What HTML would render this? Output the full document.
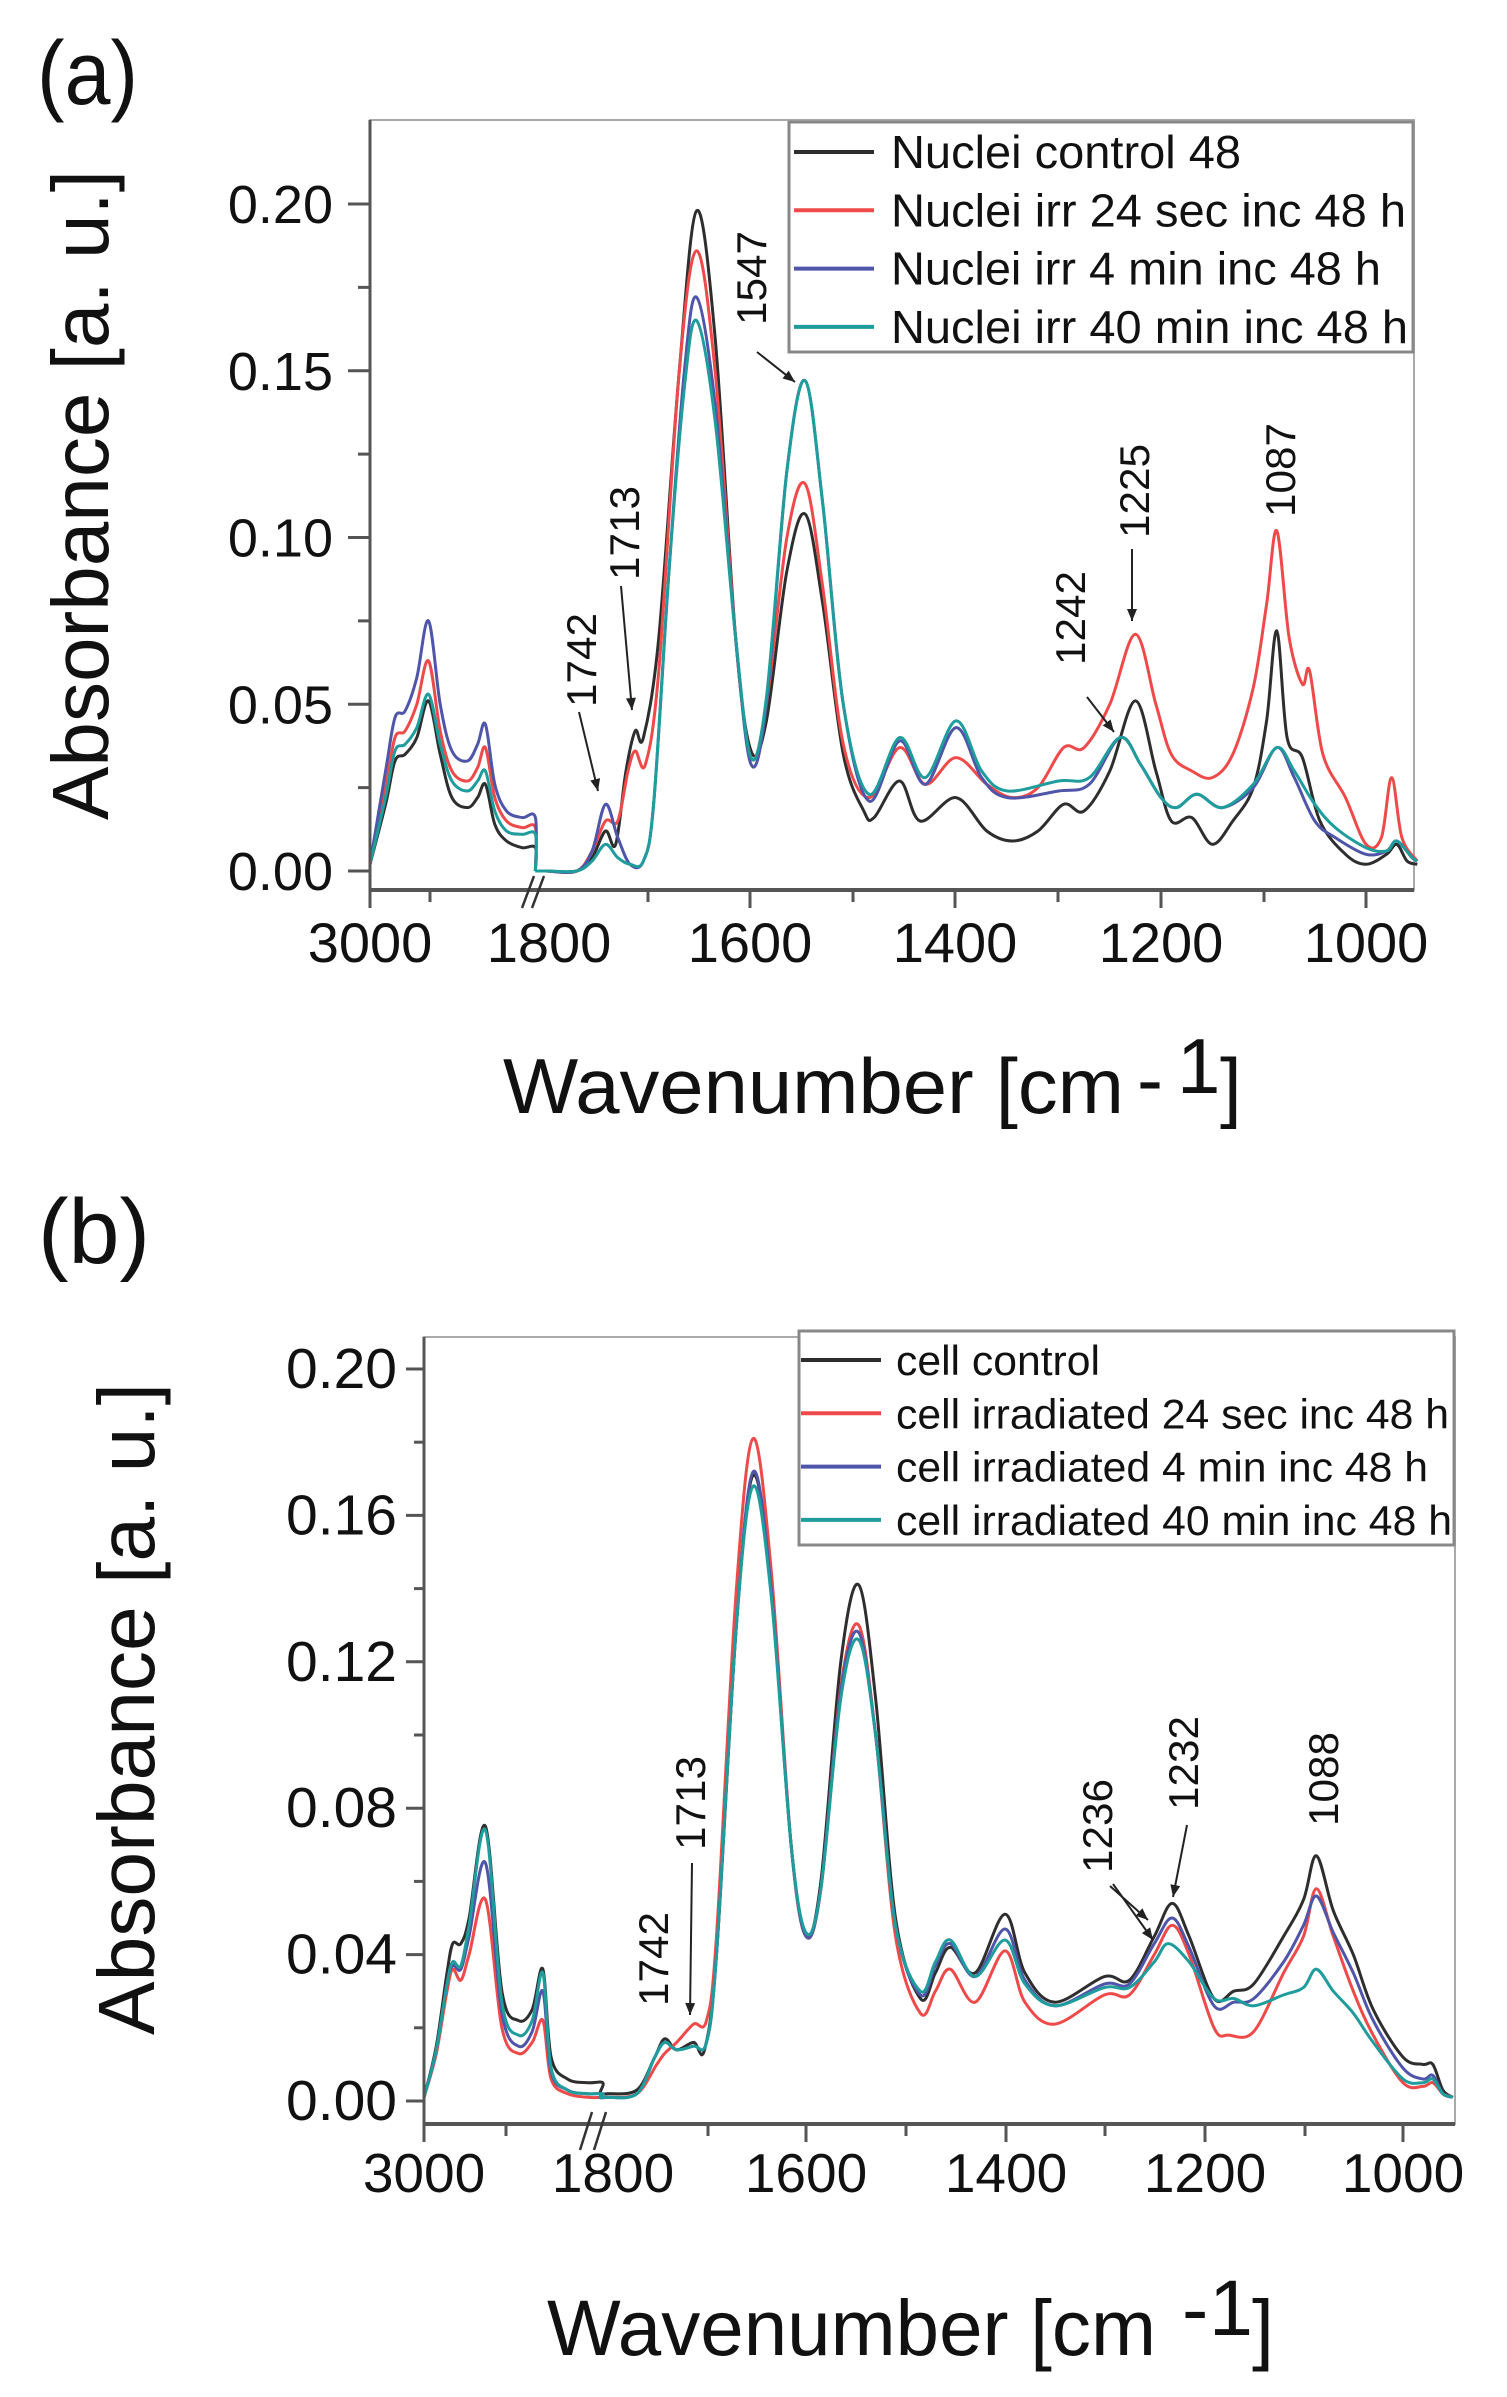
<!DOCTYPE html>
<html><head><meta charset="utf-8">
<style>
html,body{margin:0;padding:0;background:#fff;}
svg{display:block;}
text{font-family:"Liberation Sans",Arial,sans-serif;fill:#111;}
</style></head>
<body>
<svg id="s" width="1507" height="2397" viewBox="0 0 1507 2397" xmlns="http://www.w3.org/2000/svg">
<rect width="1507" height="2397" fill="#fff"/>
<text x="37" y="104" font-size="90" textLength="101" lengthAdjust="spacingAndGlyphs">(a)</text>
<text x="38" y="1263" font-size="92" textLength="112" lengthAdjust="spacingAndGlyphs">(b)</text>
<text transform="translate(108,495) rotate(-90)" text-anchor="middle" font-size="80" textLength="650" lengthAdjust="spacingAndGlyphs">Absorbance [a. u.]</text>
<text transform="translate(154,1709) rotate(-90)" text-anchor="middle" font-size="80" textLength="652" lengthAdjust="spacingAndGlyphs">Absorbance [a. u.]</text>
<text x="503" y="1113" font-size="78" textLength="621" lengthAdjust="spacingAndGlyphs">Wavenumber [cm</text>
<text x="1137" y="1106" font-size="78">-</text>
<text x="1177" y="1093" font-size="78">1</text>
<text x="1220" y="1113" font-size="78">]</text>
<text x="547" y="2355" font-size="79" textLength="609" lengthAdjust="spacingAndGlyphs">Wavenumber [cm</text>
<text x="1182" y="2336" font-size="79">-</text>
<text x="1209" y="2335" font-size="79">1</text>
<text x="1252" y="2355" font-size="79">]</text>
<g id="g"></g>
</svg>
<script>
var NS="http://www.w3.org/2000/svg";
var G=document.getElementById('g');
function el(t,a,txt){var e=document.createElementNS(NS,t);for(var k in a)e.setAttribute(k,a[k]);if(txt!=null)e.textContent=txt;G.appendChild(e);return e;}
function path(pts,col,w){
  var d="M"+pts[0][0].toFixed(1)+","+pts[0][1].toFixed(1);
  for(var i=0;i<pts.length-1;i++){
    var p0=pts[i-1]||pts[i],p1=pts[i],p2=pts[i+1],p3=pts[i+2]||p2;
    var c1x=p1[0]+(p2[0]-p0[0])/6,c1y=p1[1]+(p2[1]-p0[1])/6;
    var c2x=p2[0]-(p3[0]-p1[0])/6,c2y=p2[1]-(p3[1]-p1[1])/6;
    d+=" C"+c1x.toFixed(1)+","+c1y.toFixed(1)+" "+c2x.toFixed(1)+","+c2y.toFixed(1)+" "+p2[0].toFixed(1)+","+p2[1].toFixed(1);
  }
  el('path',{d:d,fill:'none',stroke:col,'stroke-width':w||3,'stroke-linejoin':'round'});
}
function P(arr){var o=[];for(var i=0;i<arr.length;i+=2)o.push([arr[i],arr[i+1]]);return o;}
var COL=['#2e2e2e','#ef4a4a','#4f55a8','#1f9c9c'];

var A={ax:370,right:1414,top:120,bot:890,y0:871,k:3335};
function ya(v){return A.y0-v*A.k;}
function xaL(w){return 370+(3000-w)*0.78;}
function xaM(w){return 546+(1800-w)*1.025;}
var aL=[
 P([3000,0.002,2980,0.02,2968,0.033,2955,0.035,2940,0.04,2925,0.051,2910,0.035,2895,0.022,2875,0.019,2862,0.022,2852,0.026,2840,0.014,2825,0.009,2805,0.007,2788,0.007]),
 P([3000,0.002,2980,0.025,2968,0.04,2955,0.042,2940,0.05,2925,0.063,2910,0.042,2895,0.03,2875,0.027,2862,0.031,2852,0.037,2840,0.022,2825,0.015,2805,0.013,2788,0.013]),
 P([3000,0.002,2980,0.03,2968,0.046,2955,0.048,2940,0.058,2925,0.075,2910,0.05,2895,0.036,2875,0.033,2862,0.038,2852,0.044,2840,0.026,2825,0.018,2805,0.016,2788,0.016]),
 P([3000,0.002,2980,0.022,2968,0.036,2955,0.038,2940,0.043,2925,0.053,2910,0.038,2895,0.027,2875,0.024,2862,0.027,2852,0.03,2840,0.018,2825,0.012,2805,0.011,2788,0.011])
];
var aM=[
 P([1800,0,1770,0,1755,0.004,1742,0.012,1732,0.008,1722,0.03,1713,0.042,1705,0.04,1690,0.07,1670,0.15,1653,0.198,1635,0.16,1615,0.07,1600,0.036,1585,0.045,1565,0.09,1547,0.107,1530,0.08,1510,0.035,1490,0.018,1480,0.016,1455,0.027,1435,0.015,1400,0.022,1370,0.012,1345,0.009,1320,0.012,1295,0.02,1275,0.018,1250,0.03,1225,0.051,1205,0.03,1190,0.015,1170,0.016,1150,0.008,1130,0.015,1110,0.025,1097,0.045,1087,0.072,1077,0.04,1062,0.034,1045,0.015,1020,0.005,1000,0.002,980,0.005,970,0.008,960,0.003,950,0.002]),
 P([1800,0,1770,0,1755,0.006,1742,0.015,1730,0.015,1720,0.03,1713,0.036,1703,0.032,1690,0.06,1670,0.15,1653,0.186,1635,0.15,1615,0.07,1600,0.034,1585,0.05,1565,0.1,1547,0.116,1530,0.085,1510,0.038,1485,0.022,1455,0.037,1430,0.026,1400,0.034,1370,0.026,1345,0.022,1320,0.025,1295,0.037,1275,0.037,1250,0.05,1225,0.071,1205,0.05,1190,0.035,1170,0.03,1150,0.028,1130,0.035,1110,0.055,1097,0.08,1087,0.102,1075,0.07,1062,0.056,1055,0.06,1042,0.035,1020,0.022,1000,0.008,985,0.01,975,0.028,965,0.01,950,0.003]),
 P([1800,0,1770,0,1755,0.006,1742,0.02,1730,0.01,1718,0.002,1705,0.003,1695,0.02,1680,0.09,1665,0.15,1653,0.172,1635,0.14,1615,0.07,1600,0.032,1585,0.05,1565,0.12,1547,0.147,1530,0.11,1510,0.05,1485,0.021,1455,0.039,1430,0.026,1400,0.043,1375,0.028,1350,0.022,1300,0.024,1270,0.026,1240,0.04,1220,0.032,1200,0.022,1185,0.019,1165,0.023,1140,0.019,1110,0.025,1087,0.037,1070,0.028,1050,0.015,1030,0.01,1000,0.005,980,0.006,970,0.009,955,0.004,950,0.003]),
 P([1800,0,1770,0,1755,0.003,1742,0.008,1730,0.004,1718,0.002,1705,0.003,1695,0.02,1680,0.09,1665,0.145,1653,0.165,1635,0.135,1615,0.07,1600,0.034,1585,0.052,1565,0.12,1547,0.147,1530,0.11,1510,0.05,1485,0.023,1455,0.04,1430,0.028,1400,0.045,1375,0.03,1350,0.024,1300,0.027,1270,0.028,1240,0.04,1220,0.032,1200,0.022,1185,0.019,1165,0.023,1140,0.019,1110,0.026,1087,0.037,1070,0.03,1050,0.02,1030,0.013,1000,0.007,980,0.006,970,0.009,955,0.004,950,0.003])
];
el('rect',{x:A.ax,y:A.top,width:A.right-A.ax,height:A.bot-A.top,fill:'none',stroke:'#aaa','stroke-width':2});
for(var s=0;s<4;s++){
  var L=aL[s].map(function(p){return [xaL(p[0]),ya(p[1])];});
  L.push([xaL(2788),ya(0)]);
  path(L,COL[s],3);
  var M=aM[s].map(function(p){return [xaM(p[0]),ya(p[1])];});
  M.unshift([xaL(2788),ya(0)]);
  path(M,COL[s],3);
}
el('line',{x1:A.ax,y1:A.top,x2:A.ax,y2:A.bot,stroke:'#555','stroke-width':3});
el('line',{x1:A.ax,y1:A.bot,x2:A.right,y2:A.bot,stroke:'#555','stroke-width':4});
for(var i=0;i<=8;i++){var v=i*0.025,y=ya(v);if(y<A.top)continue;
  el('line',{x1:A.ax-(i%2?12:22),y1:y,x2:A.ax,y2:y,stroke:'#555','stroke-width':3});
  if(i%2==0)el('text',{x:333,y:y+19,'font-size':54,'text-anchor':'end'},v.toFixed(2));}
var tk=[[370,1,'3000'],[430,0],[648,0],[750,1,'1600'],[853,0],[955,1,'1400'],[1058,0],[1161,1,'1200'],[1264,0],[1366,1,'1000']];
tk.forEach(function(t){el('line',{x1:t[0],y1:A.bot,x2:t[0],y2:A.bot+(t[1]?18:12),stroke:'#555','stroke-width':3});
 if(t[2])el('text',{x:t[0],y:962,'font-size':56,'text-anchor':'middle'},t[2]);});
el('text',{x:549,y:962,'font-size':56,'text-anchor':'middle'},'1800');
el('line',{x1:522,y1:908,x2:534,y2:876,stroke:'#333','stroke-width':2.5});
el('line',{x1:532,y1:908,x2:544,y2:876,stroke:'#333','stroke-width':2.5});
el('rect',{x:789,y:122,width:624,height:230,fill:'#fff',stroke:'#888','stroke-width':3});
var la=[['Nuclei control 48',350],['Nuclei irr 24 sec inc 48 h',515],['Nuclei irr 4 min inc 48 h',490],['Nuclei irr 40 min inc 48 h',517]];
la.forEach(function(l,i){var cy=152+i*58.3;
 el('line',{x1:794,y1:cy,x2:874,y2:cy,stroke:COL[i],'stroke-width':4});
 el('text',{x:891,y:cy+16,'font-size':46,textLength:l[1],lengthAdjust:'spacingAndGlyphs'},l[0]);});
function vt(x,y,t,fs){el('text',{transform:'translate('+x+','+y+') rotate(-90)','text-anchor':'middle','font-size':fs||42,textLength:94,lengthAdjust:'spacingAndGlyphs'},t);}
function arr(x1,y1,x2,y2){el('line',{x1:x1,y1:y1,x2:x2,y2:y2,stroke:'#222','stroke-width':2});
 var a=Math.atan2(y2-y1,x2-x1),h=12,w=5;
 var p=[[x2,y2],[x2-h*Math.cos(a)+w*Math.sin(a),y2-h*Math.sin(a)-w*Math.cos(a)],[x2-h*Math.cos(a)-w*Math.sin(a),y2-h*Math.sin(a)+w*Math.cos(a)]];
 el('polygon',{points:p.map(function(q){return q.join(',')}).join(' '),fill:'#222'});}
vt(596,660,'1742');arr(579,712,598,791);
vt(639,533,'1713');arr(621,586,632,710);
vt(766,278,'1547');arr(757,352,795,382);
vt(1085,618,'1242');arr(1087,697,1114,732);
vt(1149,491,'1225');arr(1132,549,1132,621);
vt(1295,470,'1087');

var B={ax:424,right:1455,top:1337,bot:2124,y0:2101,k:3660};
function yb(v){return B.y0-v*B.k;}
function xbL(w){return 424+(3000-w)*0.82;}
function xbM(w){return 607+(1800-w)*0.995;}
var bL=[
 P([3000,0.001,2985,0.015,2972,0.035,2965,0.043,2955,0.043,2945,0.05,2925,0.075,2905,0.03,2885,0.022,2868,0.025,2855,0.036,2845,0.012,2825,0.006,2800,0.005,2782,0.005]),
 P([3000,0.001,2985,0.013,2972,0.03,2965,0.036,2955,0.033,2945,0.04,2925,0.055,2905,0.02,2885,0.013,2868,0.016,2855,0.022,2845,0.006,2825,0.002,2800,0.001,2782,0.001]),
 P([3000,0.001,2985,0.014,2972,0.032,2965,0.037,2955,0.036,2945,0.045,2925,0.065,2905,0.024,2885,0.015,2868,0.019,2855,0.03,2845,0.008,2825,0.003,2800,0.002,2782,0.002]),
 P([3000,0.001,2985,0.014,2972,0.032,2965,0.038,2955,0.037,2945,0.048,2925,0.074,2905,0.027,2885,0.018,2868,0.022,2855,0.035,2845,0.009,2825,0.003,2800,0.002,2782,0.002])
];
var bM=[
 P([1800,0.002,1770,0.003,1752,0.012,1742,0.017,1730,0.014,1713,0.016,1702,0.014,1690,0.04,1670,0.13,1653,0.171,1635,0.14,1615,0.07,1600,0.045,1585,0.06,1565,0.12,1547,0.141,1530,0.11,1510,0.05,1485,0.028,1470,0.035,1455,0.042,1430,0.035,1400,0.051,1380,0.035,1350,0.027,1300,0.034,1275,0.033,1250,0.045,1232,0.054,1215,0.045,1190,0.028,1170,0.03,1150,0.032,1120,0.045,1100,0.055,1087,0.067,1070,0.052,1050,0.04,1030,0.025,1000,0.012,980,0.01,970,0.01,960,0.003,950,0.001]),
 P([1800,0.001,1770,0.002,1750,0.01,1742,0.013,1730,0.016,1713,0.021,1700,0.022,1690,0.045,1670,0.14,1653,0.181,1635,0.145,1615,0.07,1600,0.045,1585,0.058,1565,0.113,1547,0.13,1530,0.1,1510,0.045,1485,0.024,1470,0.03,1455,0.036,1430,0.027,1400,0.041,1380,0.027,1350,0.021,1300,0.029,1275,0.029,1250,0.04,1232,0.048,1215,0.04,1190,0.02,1175,0.018,1150,0.019,1120,0.035,1100,0.045,1087,0.058,1070,0.045,1050,0.03,1030,0.018,1000,0.005,980,0.004,970,0.005,960,0.002,950,0.001]),
 P([1800,0.001,1770,0.002,1752,0.012,1742,0.016,1730,0.014,1713,0.015,1700,0.016,1690,0.04,1670,0.13,1653,0.172,1635,0.14,1615,0.07,1600,0.045,1585,0.058,1565,0.112,1547,0.128,1530,0.1,1510,0.048,1485,0.029,1470,0.037,1455,0.043,1430,0.034,1400,0.047,1380,0.033,1350,0.026,1300,0.032,1275,0.032,1250,0.043,1232,0.05,1215,0.042,1190,0.026,1170,0.027,1150,0.028,1120,0.038,1100,0.048,1087,0.056,1070,0.046,1050,0.035,1030,0.022,1000,0.009,980,0.006,970,0.007,960,0.002,950,0.001]),
 P([1800,0.001,1770,0.002,1752,0.012,1742,0.016,1730,0.014,1713,0.015,1700,0.016,1690,0.04,1670,0.13,1653,0.168,1635,0.138,1615,0.07,1600,0.046,1585,0.058,1565,0.11,1547,0.126,1530,0.1,1510,0.048,1485,0.03,1470,0.038,1455,0.044,1430,0.034,1400,0.044,1380,0.032,1350,0.026,1300,0.031,1275,0.031,1250,0.038,1236,0.043,1215,0.038,1190,0.028,1170,0.028,1150,0.026,1120,0.029,1100,0.031,1087,0.036,1070,0.03,1050,0.024,1030,0.016,1000,0.006,980,0.005,970,0.006,960,0.002,950,0.001])
];
el('rect',{x:B.ax,y:B.top,width:B.right-B.ax,height:B.bot-B.top,fill:'none',stroke:'#aaa','stroke-width':2});
for(var s=0;s<4;s++){
  var L=bL[s].map(function(p){return [xbL(p[0]),yb(p[1])];});
  var M=bM[s].map(function(p){return [xbM(p[0]),yb(p[1])];});
  path(L.concat([[600,yb(bM[s][0][1])]]).concat(M),COL[s],3);
}
el('line',{x1:B.ax,y1:B.top,x2:B.ax,y2:B.bot,stroke:'#555','stroke-width':3});
el('line',{x1:B.ax,y1:B.bot,x2:B.right,y2:B.bot,stroke:'#555','stroke-width':4});
for(var i=0;i<=10;i++){var v=i*0.02,y=yb(v);
  el('line',{x1:B.ax-(i%2?10:18),y1:y,x2:B.ax,y2:y,stroke:'#555','stroke-width':3});
  if(i%2==0)el('text',{x:397,y:y+19,'font-size':57,'text-anchor':'end'},v.toFixed(2));}
var tkb=[[424,1,'3000'],[506,0],[708,0],[806,1,'1600'],[906,0],[1006,1,'1400'],[1105,0],[1205,1,'1200'],[1305,0],[1403,1,'1000']];
tkb.forEach(function(t){el('line',{x1:t[0],y1:B.bot,x2:t[0],y2:B.bot+(t[1]?18:12),stroke:'#555','stroke-width':3});
 if(t[2])el('text',{x:t[0],y:2192,'font-size':55,'text-anchor':'middle'},t[2]);});
el('text',{x:613,y:2192,'font-size':55,'text-anchor':'middle'},'1800');
el('line',{x1:580,y1:2150,x2:592,y2:2112,stroke:'#333','stroke-width':2.5});
el('line',{x1:594,y1:2150,x2:606,y2:2112,stroke:'#333','stroke-width':2.5});
el('rect',{x:799,y:1331,width:655,height:214,fill:'#fff',stroke:'#888','stroke-width':3});
var lb=[['cell control',204],['cell irradiated 24 sec inc 48 h',553],['cell irradiated 4 min inc 48 h',532],['cell irradiated 40 min inc 48 h',556]];
lb.forEach(function(l,i){var cy=1360+i*53.3;
 el('line',{x1:801,y1:cy,x2:881,y2:cy,stroke:COL[i],'stroke-width':4});
 el('text',{x:896,y:cy+15,'font-size':42,textLength:l[1],lengthAdjust:'spacingAndGlyphs'},l[0]);});
vt(668,1959,'1742');
vt(705,1803,'1713');arr(692,1863,690,2015);
vt(1112,1826,'1236');arr(1113,1884,1153,1940);arr(1110,1886,1148,1920);
vt(1198,1763,'1232');arr(1187,1825,1173,1897);
vt(1338,1779,'1088');
</script>
</body></html>
